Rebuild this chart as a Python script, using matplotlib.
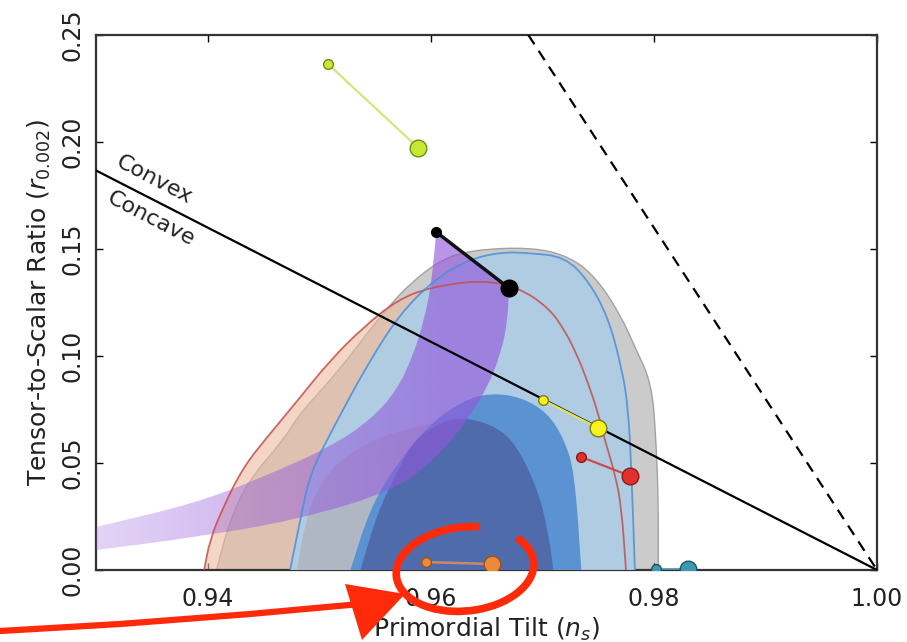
import numpy as np
import matplotlib
matplotlib.use("Agg")
import matplotlib.pyplot as plt
from matplotlib.patches import Polygon, Arc, PathPatch
from matplotlib.path import Path

# ---- data (n_s, r) ----
xticks = [0.94, 0.96, 0.98, 1.00]
yticks = [0.00, 0.05, 0.10, 0.15, 0.20, 0.25]

# convex / concave boundary r = 8/3 (1-ns) and r = 8 (1-ns) limit
convex_ns = [0.93, 1.00]
convex_r = [0.1867, 0.0]
dashed_ns = [0.96875, 1.00]
dashed_r = [0.25, 0.0]

# 95% grey (outer) contour
grey95_ns = [0.9408, 0.9420, 0.9437, 0.9468, 0.9483, 0.9513, 0.9544, 0.9562, 0.9582, 0.9609,
             0.9636, 0.9690, 0.9726, 0.9750, 0.9771, 0.9783, 0.9798, 0.9802, 0.9804, 0.9804]
grey95_r = [0.0, 0.0234, 0.0421, 0.0607, 0.0734, 0.0902, 0.1112, 0.1229, 0.1341, 0.1449,
            0.1495, 0.1509, 0.1463, 0.1355, 0.1182, 0.1042, 0.0874, 0.0607, 0.0327, 0.0]

# red (peach) contour
red_ns = [0.9397, 0.9402, 0.9414, 0.9432, 0.9455, 0.9481, 0.9510, 0.9540, 0.9570, 0.9600, 0.9645,
          0.9678, 0.9705, 0.9720, 0.9732, 0.9741, 0.9750, 0.9756, 0.9765, 0.9771, 0.9775]
red_r = [0.0, 0.0140, 0.0294, 0.0481, 0.0631, 0.0794, 0.0981, 0.1136, 0.1262, 0.1322, 0.1355,
         0.1322, 0.1229, 0.1122, 0.0995, 0.0874, 0.0734, 0.0607, 0.0453, 0.0294, 0.0]

# blue 95% contour
blue95_ns = [0.9474, 0.9483, 0.9492, 0.9513, 0.9544, 0.9573, 0.9603, 0.9633, 0.9663,
             0.9690, 0.9720, 0.9741, 0.9759, 0.9771, 0.9777, 0.9780, 0.9783]
blue95_r = [0.0, 0.0234, 0.0453, 0.0668, 0.0967, 0.1201, 0.1355, 0.1449, 0.1486,
            0.1481, 0.1463, 0.1355, 0.1182, 0.0949, 0.0762, 0.0453, 0.0]

# grey 68% contour
grey68_ns = [0.9480, 0.9488, 0.9501, 0.9524, 0.9555, 0.9585, 0.9630, 0.9660, 0.9678, 0.9696, 0.9705, 0.9710]
grey68_r = [0.0, 0.0234, 0.0411, 0.0537, 0.0622, 0.0668, 0.0715, 0.0668, 0.0575, 0.0374, 0.0187, 0.0]

# blue 68% contour
blue68_ns = [0.9528, 0.9546, 0.9570, 0.9600, 0.9630, 0.9654, 0.9681, 0.9705, 0.9720, 0.9729, 0.9735]
blue68_r = [0.0, 0.0294, 0.0500, 0.0687, 0.0794, 0.0827, 0.0808, 0.0734, 0.0607, 0.0453, 0.0]

# overlap of the two 68% regions
dark_ns = [0.9537, 0.9553, 0.9571, 0.9585, 0.9609, 0.9630, 0.9660, 0.9678, 0.9696, 0.9705, 0.9710]
dark_r = [0.0, 0.0280, 0.0467, 0.0607, 0.0692, 0.0715, 0.0668, 0.0575, 0.0374, 0.0187, 0.0]

# natural inflation band, N=50 and N=60 edges
n50_ns = [0.9605, 0.9603, 0.9600, 0.9594, 0.9585, 0.9570, 0.9546, 0.9510, 0.9450, 0.9390, 0.9300]
n50_r = [0.1579, 0.1472, 0.1322, 0.1168, 0.1014, 0.0841, 0.0701, 0.0575, 0.0435, 0.0313, 0.0201]
n60_ns = [0.9670, 0.9669, 0.9663, 0.9651, 0.9633, 0.9609, 0.9570, 0.9480, 0.9390, 0.9300]
n60_r = [0.1318, 0.1168, 0.1014, 0.0855, 0.0701, 0.0547, 0.0374, 0.0234, 0.0154, 0.0093]

# model predictions (N=50, N=60)
models = {
    "greenyellow": ([0.9508, 0.9589], [0.2364, 0.1972]),
    "black": ([0.9605, 0.9670], [0.1579, 0.1318]),
    "yellow": ([0.9701, 0.9750], [0.0794, 0.0664]),
    "red": ([0.9735, 0.9779], [0.0528, 0.0439]),
    "orange": ([0.9596, 0.9655], [0.0037, 0.0028]),
    "teal": ([0.9802, 0.9831], [0.0005, 0.0005]),
}
model_style = {
    "greenyellow": ("#c6e830", "#6f8c1a", "#cfe77c", 1.6),
    "black": ("#000000", "#000000", "#111111", 2.5),
    "yellow": ("#f5f21c", "#7b7a20", "#e4e35a", 1.6),
    "red": ("#e2302c", "#8c1a18", "#cf4a48", 1.6),
    "orange": ("#ec8a3a", "#9a5218", "#c48a6a", 1.8),
    "teal": ("#3b9ab2", "#1f5566", "#3b8ea6", 1.8),
}

fig = plt.figure(figsize=(9.07, 6.42), dpi=100)
ax = fig.add_axes([96 / 907, 72 / 642, 781 / 907, 535 / 642])


def curve(ns, r, first=Path.MOVETO):
    # quadratic bezier through the midpoints, sharp at both ends
    pts = np.column_stack([ns, r])
    verts = [pts[0], (pts[0] + pts[1]) / 2]
    codes = [first, Path.LINETO]
    for i in range(1, len(pts) - 1):
        verts += [pts[i], (pts[i] + pts[i + 1]) / 2]
        codes += [Path.CURVE3, Path.CURVE3]
    verts.append(pts[-1])
    codes.append(Path.LINETO)
    return verts, codes


def closed(*parts):
    verts, codes = [], []
    for k, (ns, r) in enumerate(parts):
        v, c = curve(ns, r, Path.MOVETO if k == 0 else Path.LINETO)
        verts += v
        codes += c
    verts.append(verts[0])
    codes.append(Path.CLOSEPOLY)
    return Path(verts, codes)


def region(ns, r, **kw):
    p = PathPatch(closed((ns, r)), **kw)
    ax.add_patch(p)
    return p


region(grey95_ns, grey95_r, facecolor="#cbcbcb", edgecolor="#a2a2a2", lw=1.0, zorder=1)
region(red_ns, red_r, facecolor="#eebba0", alpha=0.6, edgecolor="none", zorder=2)
region(blue95_ns, blue95_r, facecolor="#aecde5", edgecolor="none", alpha=0.95, zorder=3)
region(grey68_ns, grey68_r, facecolor="#afb7c5", edgecolor="none", zorder=4)
region(blue68_ns, blue68_r, facecolor="#5a92d2", edgecolor="none", zorder=5)
region(dark_ns, dark_r, facecolor="#506bab", edgecolor="none", zorder=6)

# natural inflation band with fading purple
band = PathPatch(closed((n50_ns, n50_r), (n60_ns[::-1], n60_r[::-1])),
                 facecolor="none", edgecolor="none", zorder=7)
ax.add_patch(band)
gx = np.linspace(0.93, 1.0, 300)
alpha = np.clip(0.26 + 0.38 * (gx - 0.93) / 0.031, 0.0, 0.64)
img = np.zeros((10, gx.size, 4))
img[..., 0] = 146 / 255
img[..., 1] = 88 / 255
img[..., 2] = 220 / 255
img[..., 3] = alpha[None, :]
im = ax.imshow(img, extent=[0.93, 1.0, 0, 0.25], aspect="auto", origin="lower",
               zorder=7, interpolation="bilinear")
im.set_clip_path(band)

# contour outlines
for ns, r, c in [(red_ns, red_r, "#c4504a"), (blue95_ns, blue95_r, "#4a8fd6")]:
    v, cd = curve(ns, r)
    ax.add_patch(PathPatch(Path(v, cd), facecolor="none", edgecolor=c, lw=1.3,
                           alpha=0.85, zorder=8))

# boundary lines
ax.plot(convex_ns, convex_r, color="black", lw=1.6, zorder=9)
ax.plot(dashed_ns, dashed_r, color="black", lw=1.6, ls=(0, (5, 3.5)), zorder=9)

for name, (mx, my) in models.items():
    fc, ec, lc, lw = model_style[name]
    ax.plot(mx, my, color=lc, lw=lw, zorder=10)
    ax.plot(mx[0], my[0], "o", ms=7, mfc=fc, mec=ec, mew=1.0, zorder=11)
    ax.plot(mx[1], my[1], "o", ms=12, mfc=fc, mec=ec, mew=1.0, zorder=11)

ax.text(0.9315, 0.1872, "Convex", rotation=-27.5, rotation_mode="anchor",
        ha="left", va="bottom", fontsize=16, color="#222222", zorder=12)
ax.text(0.9315, 0.1788, "Concave", rotation=-27.5, rotation_mode="anchor",
        ha="left", va="top", fontsize=16, color="#222222", zorder=12)

ax.set_xlim(0.93, 1.00)
ax.set_ylim(0.0, 0.25)
ax.set_xticks(xticks)
ax.set_xticklabels([f"{v:.2f}" for v in xticks], fontsize=17, color="#222222")
ax.set_yticks(yticks)
ax.set_yticklabels([f"{v:.2f}" for v in yticks], fontsize=17, rotation=90,
                   va="center", color="#222222")
ax.tick_params(axis="x", pad=12)
ax.tick_params(axis="y", pad=8)
ax.tick_params(direction="in", length=5, width=1, top=True, right=True)
for s in ax.spines.values():
    s.set_linewidth(1.6)
    s.set_color("#333333")
ax.set_xlabel("Primordial Tilt ($n_s$)", fontsize=18, color="#222222", labelpad=4)
ax.set_ylabel("Tensor-to-Scalar Ratio ($r_{0.002}$)", fontsize=18, color="#222222", labelpad=6)

# hand-drawn red highlight
ov = fig.add_axes([0, 0, 1, 1], zorder=20)
ov.set_xlim(0, 907)
ov.set_ylim(642, 0)
ov.axis("off")
ov.patch.set_alpha(0)
ov.add_patch(Arc((465, 569), 138, 84, angle=-6, theta1=335, theta2=655,
                 color="#ff2a0a", lw=5.5))
ov.plot([0, 120, 250, 360], [631, 624, 614, 604], color="#ff2a0a", lw=4.5,
        solid_capstyle="round")
ov.add_patch(Polygon([(345, 584), (405, 594), (362, 640)], closed=True,
                     facecolor="#ff2a0a", edgecolor="none"))

fig.savefig("out.png", dpi=100)
